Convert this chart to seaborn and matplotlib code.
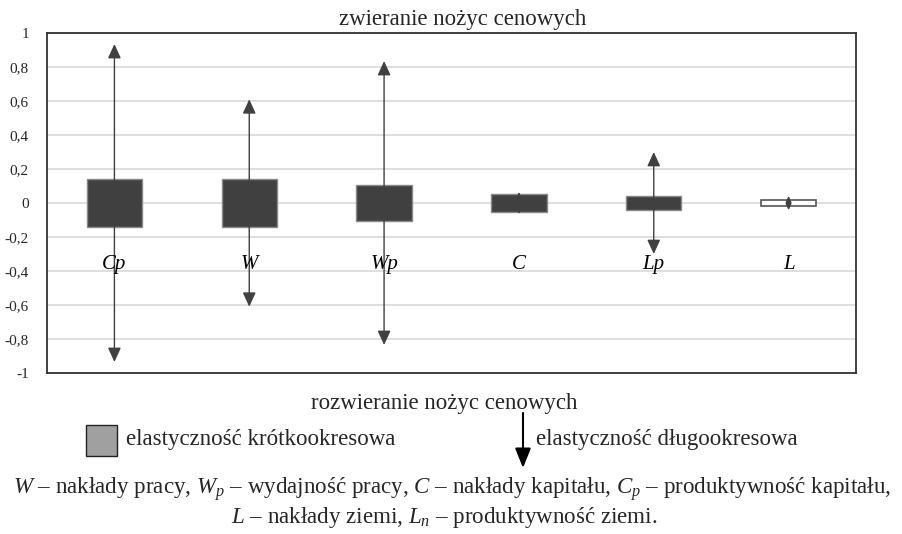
import numpy as np
import pandas as pd
import matplotlib
matplotlib.use("Agg")
import matplotlib.pyplot as plt
import seaborn as sns
from matplotlib.patches import Rectangle, FancyArrowPatch

# ---- data ----
categories = ["Cp", "W", "Wp", "C", "Lp", "L"]
short_run = [0.14, 0.14, 0.105, 0.052, 0.043, 0.016]   # half-height of boxes (elastyczność krótkookresowa)
long_run = [0.935, 0.61, 0.835, 0.065, 0.30, 0.042]    # arrow tips (elastyczność długookresowa)
yticks = [1, 0.8, 0.6, 0.4, 0.2, 0, -0.2, -0.4, -0.6, -0.8, -1]
ytick_labels = ["1", "0,8", "0,6", "0,4", "0,2", "0", "-0,2", "-0,4", "-0,6", "-0,8", "-1"]

sns.set_style("white")
plt.rcParams["font.family"] = ["Liberation Serif", "DejaVu Serif"]
plt.rcParams["mathtext.fontset"] = "custom"
plt.rcParams["mathtext.rm"] = "Liberation Serif"
plt.rcParams["mathtext.it"] = "Liberation Serif:italic"

W, H = 903, 534
fig = plt.figure(figsize=(W / 100, H / 100), dpi=100)
ax = fig.add_axes([47 / W, 1 - 373 / H, (856 - 47) / W, (373 - 33) / H])

df = pd.DataFrame({"cat": categories,
                   "height": [2 * s for s in short_run],
                   "bottom": [-s for s in short_run]})

dark = "#404040"
sns.barplot(data=df, x="cat", y="height", order=categories, color=dark,
            saturation=1, width=0.41, bottom=df["bottom"].values,
            edgecolor="#8a8a8a", linewidth=1.0, ax=ax, zorder=3)
# last box (L) is white with dark outline
ax.patches[-1].set_facecolor("white")
ax.patches[-1].set_edgecolor("#555555")
ax.patches[-1].set_linewidth(1.2)

# arrows (long-run elasticity)
for i, (c, v) in enumerate(zip(categories, long_run)):
    ms = 12 if v > 0.1 else 5
    for sgn in (1, -1):
        ax.annotate("", xy=(i, sgn * v), xytext=(i, 0),
                    arrowprops=dict(arrowstyle="-|>,head_length=0.72,head_width=0.33",
                                    mutation_scale=ms, color=dark, lw=1.0,
                                    shrinkA=0, shrinkB=0),
                    zorder=4)
    ax.text(i, -0.36, c, ha="center", va="center", style="italic",
            fontsize=15, color="black", zorder=5)

ax.set_xlim(-0.5, len(categories) - 0.5)
ax.set_ylim(-1, 1)
ax.set_yticks(yticks)
ax.set_yticklabels(ytick_labels, fontsize=11)
ax.set_xticks([])
ax.set_xlabel("")
ax.set_ylabel("")
ax.tick_params(axis="y", length=0, pad=13)
ax.yaxis.grid(True, color="#d9d9d9", linewidth=1.2, zorder=0)
ax.set_axisbelow(True)
for sp in ax.spines.values():
    sp.set_color("#333333")
    sp.set_linewidth(1.3)

FS = 16.5
# texts
fig.text(463 / W, 1 - 19 / H, "zwieranie nożyc cenowych", ha="center", va="center", fontsize=FS)
fig.text(444 / W, 1 - 403 / H, "rozwieranie nożyc cenowych", ha="center", va="center", fontsize=FS)

# legend
fig.patches.append(Rectangle((86 / W, 1 - 456 / H), 31 / W, 31 / H, transform=fig.transFigure,
                             facecolor="#a0a0a0", edgecolor="#222222", linewidth=1.0))
fig.text(126 / W, 1 - 439 / H, "elastyczność krótkookresowa", ha="left", va="center", fontsize=FS)
fig.patches.append(FancyArrowPatch((523 / W, 1 - 413 / H), (523 / W, 1 - 468 / H),
                                   transform=fig.transFigure,
                                   arrowstyle="-|>,head_length=1.0,head_width=0.4",
                                   mutation_scale=12, color="black", lw=1.5,
                                   shrinkA=0, shrinkB=0))
fig.text(536 / W, 1 - 439 / H, "elastyczność długookresowa", ha="left", va="center", fontsize=FS)

FS2 = 16.6
fig.text(452 / W, 1 - 489 / H,
         r"$W$ – nakłady pracy, $W_p$ – wydajność pracy, $C$ – nakłady kapitału, $C_p$ – produktywność kapitału,",
         ha="center", va="center", fontsize=FS2)
fig.text(444 / W, 1 - 518 / H,
         r"$L$ – nakłady ziemi, $L_n$ – produktywność ziemi.",
         ha="center", va="center", fontsize=FS2)

fig.savefig("out.png", dpi=100)
